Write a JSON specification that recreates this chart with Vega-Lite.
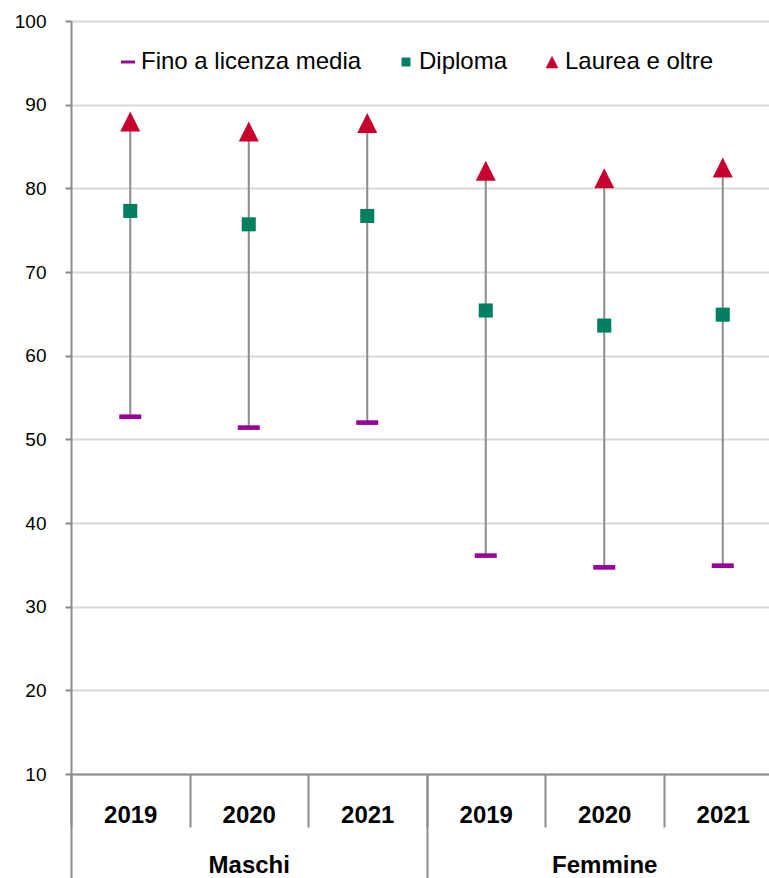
{
  "$schema": "https://vega.github.io/schema/vega-lite/v6.json",
  "width": 698,
  "height": 753,
  "autosize": {"type": "none"},
  "padding": {"left": 71, "top": 21, "right": 0, "bottom": 104},
  "background": "white",
  "config": {"view": {"stroke": null}, "font": "Liberation Sans"},
  "data": {
    "values": [
      {"sesso": "Maschi", "gruppo": "Maschi 2019", "Fino a licenza media": 52.7, "Diploma": 77.3, "Laurea e oltre": 88.0},
      {"sesso": "Maschi", "gruppo": "Maschi 2020", "Fino a licenza media": 51.4, "Diploma": 75.7, "Laurea e oltre": 86.8},
      {"sesso": "Maschi", "gruppo": "Maschi 2021", "Fino a licenza media": 52.0, "Diploma": 76.7, "Laurea e oltre": 87.8},
      {"sesso": "Femmine", "gruppo": "Femmine 2019", "Fino a licenza media": 36.1, "Diploma": 65.4, "Laurea e oltre": 82.1},
      {"sesso": "Femmine", "gruppo": "Femmine 2020", "Fino a licenza media": 34.7, "Diploma": 63.6, "Laurea e oltre": 81.2},
      {"sesso": "Femmine", "gruppo": "Femmine 2021", "Fino a licenza media": 34.9, "Diploma": 64.9, "Laurea e oltre": 82.5}
    ]
  },
  "layer": [
    {
      "layer": [
        {
          "mark": {"type": "rule", "color": "#8c8c8c", "strokeWidth": 2},
          "encoding": {
            "x": {
              "field": "gruppo", "type": "nominal", "sort": null,
              "scale": {"type": "band", "range": [0, 711], "paddingInner": 0, "paddingOuter": 0},
              "axis": {
                "title": null, "orient": "bottom", "labelAngle": 0,
                "labelExpr": "slice(datum.label, -4)",
                "tickBand": "extent", "tickSize": 53, "tickWidth": 2, "tickColor": "#8c8c8c",
                "domainColor": "#8c8c8c", "domainWidth": 2,
                "labelFont": "Liberation Sans",
                "labelFontSize": 24, "labelFontWeight": "bold", "labelColor": "black",
                "labelPadding": -24, "labelLimit": 0, "grid": false, "zindex": 1
              }
            },
            "y": {
              "field": "Fino a licenza media", "type": "quantitative",
              "scale": {"domain": [10, 100], "nice": false, "zero": false},
              "axis": {
                "title": null, "values": [10, 20, 30, 40, 50, 60, 70, 80, 90, 100],
                "grid": true, "gridColor": "#d9d9d9", "gridWidth": 2,
                "domainColor": "#8c8c8c", "domainWidth": 2,
                "tickColor": "#8c8c8c", "tickWidth": 2, "tickSize": 6,
                "labelFont": "Liberation Sans",
                "labelFontSize": 19, "labelPadding": 19, "labelColor": "black"
              }
            },
            "y2": {"field": "Laurea e oltre"}
          }
        },
        {
          "transform": [{"fold": ["Fino a licenza media", "Diploma", "Laurea e oltre"], "as": ["serie", "valore"]}],
          "mark": {"type": "point", "filled": true, "opacity": 1, "size": 484, "strokeWidth": 0},
          "encoding": {
            "x": {"field": "gruppo", "type": "nominal", "sort": null},
            "y": {"field": "valore", "type": "quantitative"},
            "color": {
              "field": "serie", "type": "nominal",
              "scale": {"domain": ["Fino a licenza media", "Diploma", "Laurea e oltre"], "range": ["#990099", "#008060", "#c8002e"]},
              "legend": {
                "title": null, "orient": "none", "direction": "horizontal", "legendX": 45, "legendY": 29,
                "padding": 0, "labelFont": "Liberation Sans",
                "labelFontSize": 24, "labelColor": "black", "labelOffset": 1, "columnPadding": 32, "labelLimit": 0,
                "symbolSize": 196, "symbolStrokeWidth": 0,
                "encode": {"symbols": {"update": {"size": {"signal": "datum.value === 'Diploma' ? 380 : datum.value === 'Laurea e oltre' ? 240 : 196"}}}}
              }
            },
            "shape": {
              "field": "serie", "type": "nominal",
              "scale": {
                "domain": ["Fino a licenza media", "Diploma", "Laurea e oltre"],
                "range": ["M-1,-0.21H1V0.21H-1Z", "M-0.64,-0.64H0.64V0.64H-0.64Z", "M0,-0.91L0.91,0.91H-0.91Z"]
              },
              "legend": {
                "title": null, "orient": "none", "direction": "horizontal", "legendX": 45, "legendY": 29,
                "padding": 0, "labelFont": "Liberation Sans",
                "labelFontSize": 24, "labelColor": "black", "labelOffset": 1, "columnPadding": 32, "labelLimit": 0,
                "symbolSize": 196, "symbolStrokeWidth": 0,
                "encode": {"symbols": {"update": {"size": {"signal": "datum.value === 'Diploma' ? 380 : datum.value === 'Laurea e oltre' ? 240 : 196"}}}}
              }
            }
          }
        }
      ]
    },
    {
      "mark": {"type": "rule", "opacity": 0},
      "encoding": {
        "x": {
          "field": "sesso", "type": "nominal", "sort": null,
          "scale": {"type": "band", "range": [0, 711], "paddingInner": 0, "paddingOuter": 0},
          "axis": {
            "title": null, "orient": "bottom", "labelAngle": 0,
            "tickBand": "extent", "tickSize": 104, "tickWidth": 2, "tickColor": "#8c8c8c",
            "domain": false,
            "labelFont": "Liberation Sans",
            "labelFontSize": 24, "labelFontWeight": "bold", "labelColor": "black",
            "labelPadding": -25, "labelLimit": 0, "grid": false, "zindex": 1
          }
        }
      }
    }
  ],
  "resolve": {"scale": {"x": "independent"}}
}
